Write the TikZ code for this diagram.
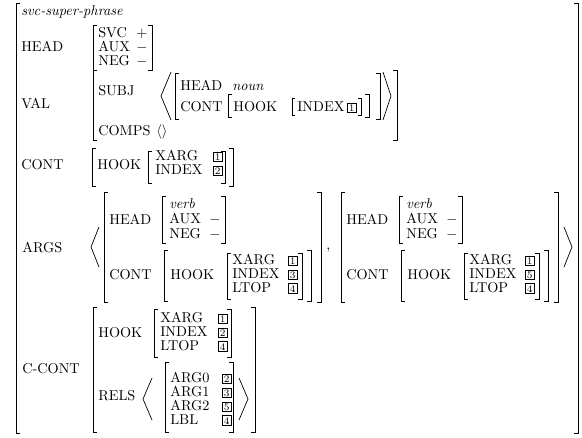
\documentclass[tikz,border=0pt]{standalone}
\newcommand{\avmLB}[4][4]{\draw[br] (#2+#1,#3) -- (#2,#3) -- (#2,#4) -- (#2+#1,#4);}
\newcommand{\avmRB}[4][4]{\draw[br] (#2-#1,#3) -- (#2,#3) -- (#2,#4) -- (#2-#1,#4);}
\newcommand{\avmLA}[4][8]{\draw[br] (#2+#1,#3) -- (#2,{(#3+#4)/2}) -- (#2+#1,#4);}
\newcommand{\avmRA}[4][8]{\draw[br] (#2-#1,#3) -- (#2,{(#3+#4)/2}) -- (#2-#1,#4);}
\newcommand{\avmT}[4]{\node[txt] (#1) at (#2,#3) {#4};}
\newcommand{\avmI}[4]{\node[txt] (#1) at (#2,#3) {\itshape #4};}
\newcommand{\avmG}[4]{\node[tagbox] (#1) at (#2,#3) {#4};}
\newcommand{\avmM}[3]{\node[txt] (#1) at (#2,#3) {$-$};}
% one element of ARGS, left bracket at x=#1, INDEX tag #2, name prefix #3
\newcommand{\argmat}[3]{%
  \avmLB{#1}{192}{302}\avmRB{#1+217}{192}{302}
  \avmT{#3head}{#1+5}{224}{HEAD}
  \avmLB{#1+58}{196}{243}\avmRB{#1+121}{196}{243}
  \avmI{#3verb}{#1+65}{208}{verb}
  \avmT{#3aux}{#1+65}{223}{AUX}\avmM{#3auxv}{#1+105}{223}
  \avmT{#3neg}{#1+65}{238}{NEG}\avmM{#3negv}{#1+105}{238}
  \avmT{#3cont}{#1+5}{279}{CONT}
  \avmLB{#1+60}{250}{301}\avmRB{#1+207}{250}{301}
  \avmT{#3hook}{#1+66}{279}{HOOK}
  \avmLB{#1+123}{253}{299}\avmRB{#1+198}{253}{299}
  \avmT{#3xarg}{#1+128}{264}{XARG}\avmG{#3t1}{#1+184}{264}{1}
  \avmT{#3index}{#1+128}{278}{INDEX}\avmG{#3t2}{#1+184}{278}{#2}
  \avmT{#3ltop}{#1+128}{292}{LTOP}\avmG{#3t3}{#1+184}{292}{4}
}
\begin{document}
\begin{tikzpicture}[x=0.7pt,y=-0.7pt,
  br/.style={line width=0.5pt},
  txt/.style={anchor=base west,inner sep=0pt,font=\normalsize},
  tagbox/.style={anchor=base west,draw,line width=0.3pt,inner sep=1.1pt,
    font=\scriptsize,text depth=0pt}]
\useasboundingbox (0,0) rectangle (582,437);
% outer matrix
\avmLB{16}{3}{433}\avmRB{578}{3}{433}
\avmI{type}{21}{15}{svc-super-phrase}
% HEAD
\avmT{head}{21}{51}{HEAD}
\avmLB{93}{25}{70}\avmRB{152}{25}{70}
\node[txt] (svc) at (98,37) {SVC};\node[txt] (svcv) at (136,37) {$+$};
\avmT{aux}{98}{51}{AUX}\avmM{auxv}{136}{51}
\avmT{neg}{98}{65}{NEG}\avmM{negv}{136}{65}
% VAL
\avmT{val}{21}{108}{VAL}
\avmLB{93}{70}{140}\avmRB{397}{70}{140}
\avmT{subj}{98}{95}{SUBJ}
\avmT{comps}{98}{135}{COMPS}
\node[txt] (compsv) at (156,135) {$\langle\rangle$};
\avmLA[10]{161}{72}{120}\avmRA[8]{391}{72}{120}
\avmLB{175}{73}{119}\avmRB{380}{73}{119}
\avmT{shead}{180}{90}{HEAD}\avmI{noun}{232}{90}{noun}
\avmT{scont}{180}{111}{CONT}
\avmLB{228}{94}{117}\avmRB{369}{94}{117}
\avmT{shook}{233}{111}{HOOK}
\avmLB[3]{292}{98}{115}\avmRB[3]{361}{98}{115}
\avmT{sindex}{297}{111}{INDEX}\avmG{st1}{347}{111}{1}
% CONT
\avmT{cont}{21}{169}{CONT}
\avmLB{92}{148}{186}\avmRB{233}{148}{186}
\avmT{chook}{97}{169}{HOOK}
\avmLB{148}{151}{183}\avmRB{225}{151}{183}
\avmT{cxarg}{155}{160}{XARG}\avmG{ct1}{213}{160}{1}
\avmT{cindex}{155}{174}{INDEX}\avmG{ct2}{213}{174}{2}
% ARGS
\avmT{args}{22}{252}{ARGS}
\avmLA[8]{91}{227}{267}\avmRA[8]{572}{227}{267}
\argmat{104}{3}{a}
\node[txt] (comma) at (326,249) {,};
\argmat{341}{5}{b}
% C-CONT
\avmT{ccont}{22}{373}{C-CONT}
\avmLB{93}{307}{432}\avmRB{255}{307}{432}
\avmT{hhook}{98}{337}{HOOK}
\avmLB{154}{309}{357}\avmRB{231}{309}{357}
\avmT{hxarg}{160}{322}{XARG}\avmG{ht1}{218}{322}{1}
\avmT{hindex}{160}{336}{INDEX}\avmG{ht2}{218}{336}{2}
\avmT{hltop}{160}{350}{LTOP}\avmG{ht3}{218}{350}{4}
\avmT{rels}{98}{400}{RELS}
\avmLA[9]{143}{378}{420}\avmRA[9]{248}{378}{420}
\avmLB{165}{362}{432}\avmRB{233}{362}{432}
\avmT{arg0}{170}{382}{ARG0}\avmG{rt0}{222}{382}{2}
\avmT{arg1}{170}{396}{ARG1}\avmG{rt1}{222}{396}{3}
\avmT{arg2}{170}{410}{ARG2}\avmG{rt2}{222}{410}{5}
\avmT{lbl}{170}{424}{LBL}\avmG{rt3}{222}{424}{4}
\end{tikzpicture}
\end{document}
